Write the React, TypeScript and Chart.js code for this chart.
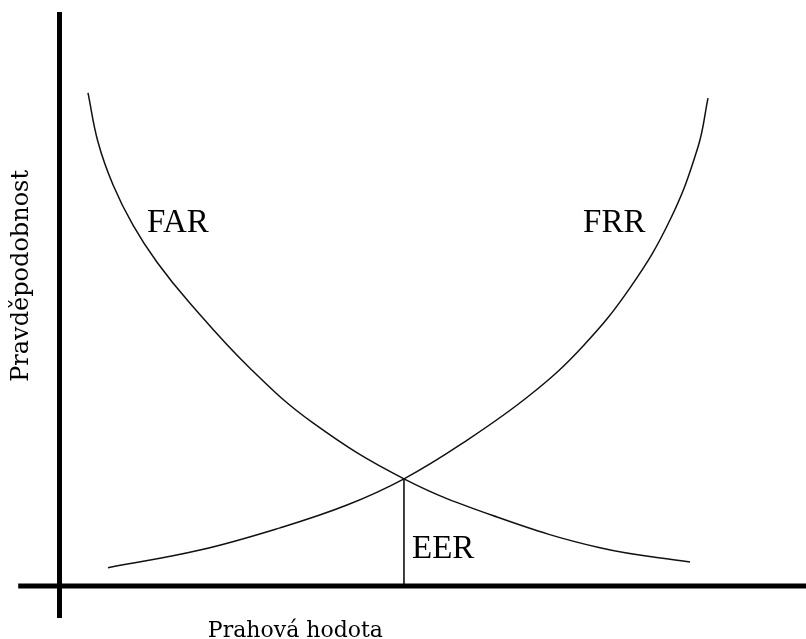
import React, { useEffect, useRef } from "react";
import { Chart, registerables } from "chart.js";

Chart.register(...registerables);

// FAR curve (threshold → probability)
const farX = [0.407, 0.55, 0.764, 1.05, 1.393, 1.864, 2.721, 3.621, 4.921, 6.25, 7.721, 9.007];
const farY = [0.865, 0.779, 0.704, 0.633, 0.568, 0.496, 0.382, 0.286, 0.188, 0.121, 0.067, 0.042];

// FRR curve
const frrX = [0.693, 2.007, 3.15, 4.107, 4.921, 5.764, 6.721, 7.464, 8.15, 8.721, 9.121, 9.264];
const frrY = [0.032, 0.063, 0.102, 0.142, 0.188, 0.251, 0.335, 0.419, 0.523, 0.642, 0.77, 0.856];

// Equal error rate point
const eerX = 4.921;
const eerY = 0.188;

// Text
const curveLabels = ["FAR", "FRR", "EER"];
const xTitle = "Prahová hodota";
const yTitle = "Pravděpodobnost";

const W = 806;
const H = 639;

export default function App() {
  const ref = useRef<HTMLCanvasElement | null>(null);

  useEffect(() => {
    document.body.style.margin = "0";
    const canvas = ref.current;
    if (!canvas) return;

    const toPts = (xs: number[], ys: number[]) => xs.map((x, i) => ({ x, y: ys[i] }));

    const labelPos = [
      { x: 1.25, y: 0.621 },
      { x: 7.48, y: 0.621 },
      { x: 5.036, y: 0.049 },
    ];

    const textPlugin = {
      id: "texts",
      afterDatasetsDraw(chart: any) {
        const { ctx } = chart;
        const sx = chart.scales.x;
        const sy = chart.scales.y;
        ctx.save();
        ctx.fillStyle = "#000";
        ctx.textBaseline = "alphabetic";
        ctx.textAlign = "left";
        ctx.font = '33px "Liberation Serif", "Times New Roman", serif';
        curveLabels.forEach((t, i) => {
          ctx.fillText(t, sx.getPixelForValue(labelPos[i].x), sy.getPixelForValue(labelPos[i].y));
        });
        ctx.textAlign = "center";
        ctx.font = '22px "DejaVu Serif", serif';
        ctx.fillText(xTitle, sx.getPixelForValue(3.37), sy.getPixelForValue(-0.0895));
        ctx.font = '24px "DejaVu Serif", serif';
        ctx.save();
        ctx.translate(sx.getPixelForValue(-0.45), sy.getPixelForValue(0.544));
        ctx.rotate(-Math.PI / 2);
        ctx.fillText(yTitle, 0, 0);
        ctx.restore();
        ctx.restore();
      },
    };

    const curve = {
      borderColor: "#111",
      borderWidth: 1.5,
      pointRadius: 0,
      tension: 0.4,
    };

    const chart = new Chart(canvas, {
      type: "line",
      data: {
        datasets: [
          {
            label: "x-axis",
            data: [{ x: -0.59, y: 0 }, { x: 10.7, y: 0 }],
            borderColor: "#000",
            borderWidth: 5,
            pointRadius: 0,
            borderCapStyle: "butt",
          },
          {
            label: "y-axis",
            data: [{ x: 0, y: 1.007 }, { x: 0, y: -0.056 }],
            borderColor: "#000",
            borderWidth: 5,
            pointRadius: 0,
            borderCapStyle: "butt",
          },
          { label: "FAR", data: toPts(farX, farY), ...curve },
          { label: "FRR", data: toPts(frrX, frrY), ...curve },
          {
            label: "EER",
            data: [{ x: eerX, y: eerY }, { x: eerX, y: 0 }],
            borderColor: "#000",
            borderWidth: 1.5,
            pointRadius: 0,
          },
        ] as any,
      },
      options: {
        animation: false,
        responsive: false,
        devicePixelRatio: 1,
        layout: { padding: 0 },
        plugins: { legend: { display: false }, tooltip: { enabled: false }, title: { display: false } },
        elements: { line: { fill: false } },
        scales: {
          x: { type: "linear", min: -0.85, max: 10.664, display: false },
          y: { type: "linear", min: -0.093, max: 1.028, display: false },
        },
      } as any,
      plugins: [textPlugin],
    });

    return () => chart.destroy();
  }, []);

  return (
    <div style={{ width: W, height: H, background: "#fff" }}>
      <canvas ref={ref} width={W} height={H} style={{ display: "block", width: W, height: H }} />
    </div>
  );
}
